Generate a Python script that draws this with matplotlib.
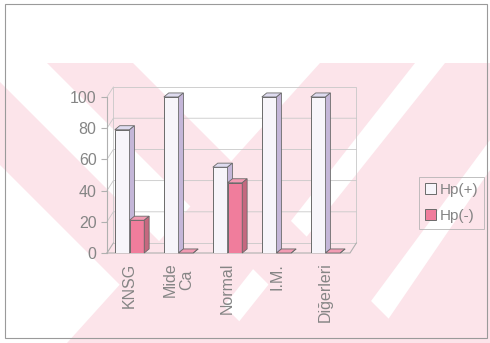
import matplotlib
matplotlib.use("Agg")
import matplotlib.pyplot as plt
from matplotlib.patches import Polygon, Rectangle
import numpy as np

plt.rcParams["font.family"] = ["Liberation Sans", "DejaVu Sans"]

# values
categories = ["KNSG", "Mide\nCa", "Normal", "I.M.", "Diğerleri"]
hp_pos = [79, 100, 55, 100, 100]
hp_neg = [21, 0, 45, 0, 0]
yticks = [0, 20, 40, 60, 80, 100]

grey = "#858585"
pos_front, pos_top, pos_side = "#f7f5fa", "#dedbef", "#c4b6d8"
neg_front, neg_top, neg_side = "#f07d9c", "#f29bb3", "#c5687f"

fig = plt.figure(figsize=(4.9, 3.43), dpi=100)

# background: scan watermark + page frame (pixel coordinates)
bg = fig.add_axes([0, 0, 1, 1], zorder=-5)
bg.set_xlim(0, 490)
bg.set_ylim(343, 0)
bg.axis("off")
pink = "#fce4ea"
bands = [
    [(0, 82), (261, 343), (178, 343), (0, 165)],
    [(47, 63), (133, 63), (413, 343), (327, 343)],
    [(320, 63), (415, 63), (195, 343), (67, 343)],
    [(445, 63), (490, 63), (490, 140), (340, 343), (222, 343)],
    [(490, 170), (490, 343), (372, 343)],
]
clip = Rectangle((0, 63), 490, 280, transform=bg.transData)
for b in bands:
    p = Polygon(b, closed=True, color=pink, lw=0)
    bg.add_patch(p)
    p.set_clip_path(clip)
bg.add_patch(Rectangle((5, 4), 482, 334, fill=False, ec="#9a9a9a", lw=0.8))

ax = fig.add_axes([107 / 490, 1 - 253 / 343, 243 / 490, 156 / 343])
ax.patch.set_alpha(0)
x = np.arange(len(categories))
w = 0.3
dx, dy = 0.1, 2.6        # depth of the bars
wx, wy = 0.13, 6.4       # depth of the walls

ax.set_xlim(-0.46, 4.5)
ax.set_ylim(0, 100)

# back wall, floor and left wall
x0, x1 = -0.46, 4.5
ax.add_patch(Polygon([(x0 + wx, wy), (x1 + wx, wy), (x1 + wx, 100 + wy),
                      (x0 + wx, 100 + wy)], closed=True, fill=False,
                     ec="#c8c8c8", lw=0.6, clip_on=False))
for t in yticks[1:-1]:
    ax.plot([x0, x0 + wx, x1 + wx], [t, t + wy, t + wy], color="#c8c8c8",
            lw=0.6, clip_on=False)
ax.plot([x0, x0 + wx], [100, 100 + wy], color="#c8c8c8", lw=0.6, clip_on=False)
ax.plot([x0, x1, x1 + wx], [0, 0, wy], color="#b0b0b0", lw=0.8, clip_on=False)
ax.plot([x0, x0 + wx], [0, wy], color="#b0b0b0", lw=0.8, clip_on=False)


def bar3d(xl, h, front, top, side):
    ax.bar(xl, h, w, align="edge", color=front, ec="#6a6a6a", lw=0.7, zorder=3)
    ax.add_patch(Polygon([(xl, h), (xl + w, h), (xl + w + dx, h + dy),
                          (xl + dx, h + dy)], closed=True, fc=top,
                         ec="#6a6a6a", lw=0.6, zorder=3, clip_on=False))
    ax.add_patch(Polygon([(xl + w, 0), (xl + w + dx, dy), (xl + w + dx, h + dy),
                          (xl + w, h)], closed=True, fc=side,
                         ec="#6a6a6a", lw=0.6, zorder=3, clip_on=False))


for i in range(len(categories)):
    bar3d(x[i] - w, hp_pos[i], pos_front, pos_top, pos_side)
    bar3d(x[i], hp_neg[i], neg_front, neg_top, neg_side)

for s in ax.spines.values():
    s.set_visible(False)
ax.spines["left"].set_visible(True)
ax.spines["left"].set_color("#b0b0b0")
ax.set_yticks(yticks)
ax.set_xticks(x)
ax.set_xticklabels(categories, rotation=90, va="top", ha="center",
                   fontsize=11.5, color=grey, linespacing=1.1)
ax.tick_params(axis="y", labelsize=11.5, labelcolor=grey, color="#b0b0b0",
               length=4)
ax.tick_params(axis="x", length=0, pad=7)

handles = [Rectangle((0, 0), 1, 1, fc=pos_front, ec="#6a6a6a", lw=0.7),
           Rectangle((0, 0), 1, 1, fc=neg_front, ec="#6a6a6a", lw=0.7)]
leg = fig.legend(handles, ["Hp(+)", "Hp(-)"], loc="center left",
                 bbox_to_anchor=(419 / 490, 1 - 203 / 343), fontsize=11,
                 frameon=True, fancybox=False, handlelength=0.7,
                 handleheight=0.7, handletextpad=0.25, borderpad=0.4,
                 borderaxespad=0, labelspacing=0.8, labelcolor=grey)
leg.get_frame().set_edgecolor("#b0b0b0")
leg.get_frame().set_linewidth(0.7)
leg.get_frame().set_facecolor("none")

fig.savefig("out.png", dpi=100)
